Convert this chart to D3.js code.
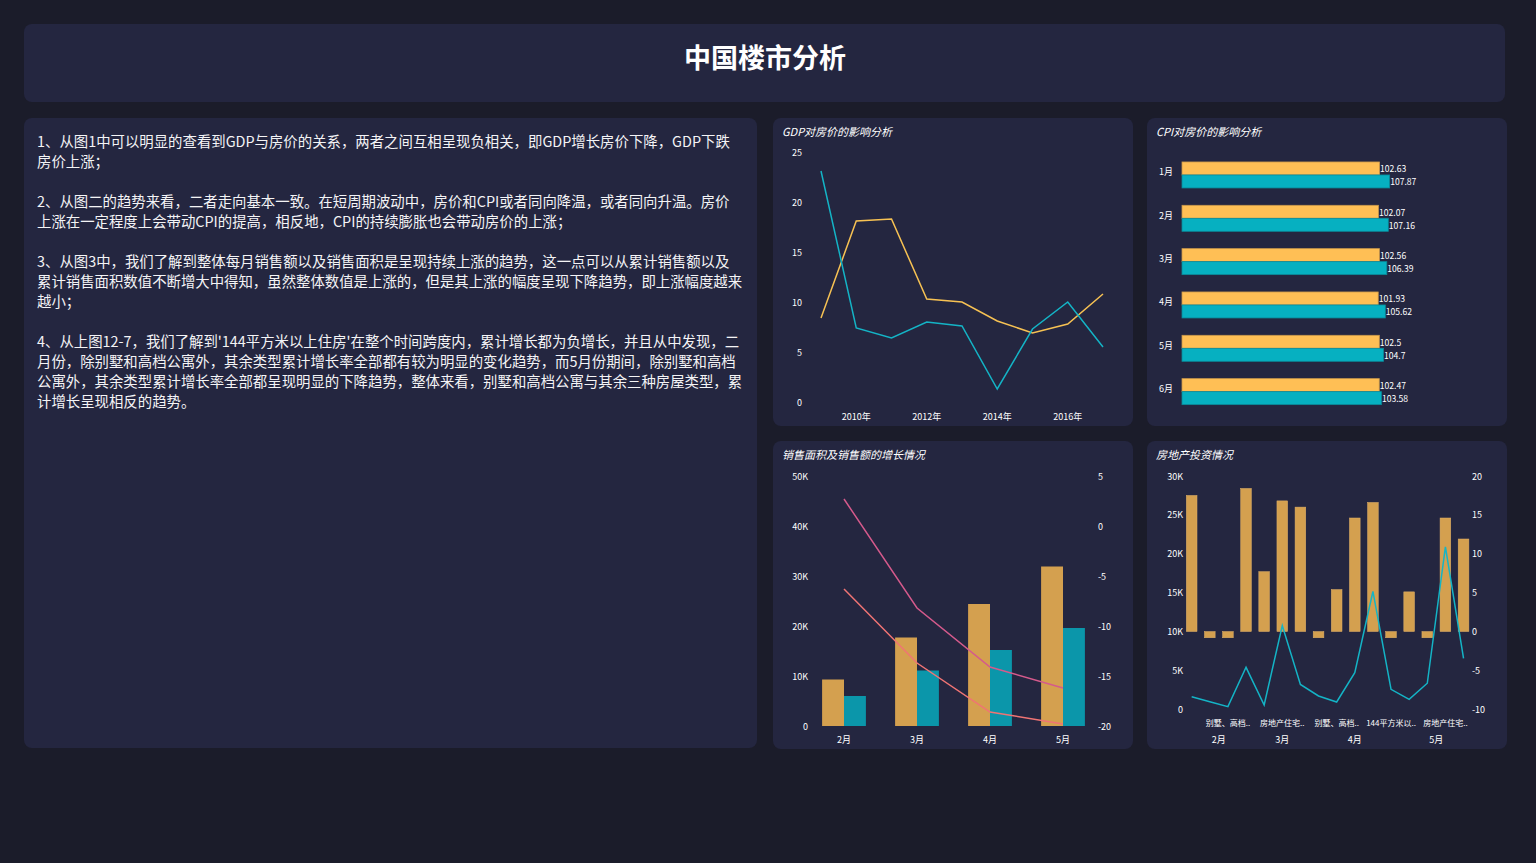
<!DOCTYPE html>
<html><head><meta charset="utf-8">
<script src="https://cdn.jsdelivr.net/npm/d3@7"></script>
<style>
body{margin:0;background:#1b1c2a;overflow:hidden}
svg{display:block;font-family:"Noto Sans CJK SC","Noto Sans",sans-serif}
</style>
</head><body>
<svg id="c" width="1536" height="863"></svg>
<script>
// ---------------- data ----------------
const pageTitle = "中国楼市分析";
const noteLines = [
  "1、从图1中可以明显的查看到GDP与房价的关系，两者之间互相呈现负相关，即GDP增长房价下降，GDP下跌",
  "房价上涨；",
  "",
  "2、从图二的趋势来看，二者走向基本一致。在短周期波动中，房价和CPI或者同向降温，或者同向升温。房价",
  "上涨在一定程度上会带动CPI的提高，相反地，CPI的持续膨胀也会带动房价的上涨；",
  "",
  "3、从图3中，我们了解到整体每月销售额以及销售面积是呈现持续上涨的趋势，这一点可以从累计销售额以及",
  "累计销售面积数值不断增大中得知，虽然整体数值是上涨的，但是其上涨的幅度呈现下降趋势，即上涨幅度越来",
  "越小；",
  "",
  "4、从上图12-7，我们了解到'144平方米以上住房'在整个时间跨度内，累计增长都为负增长，并且从中发现，二",
  "月份，除别墅和高档公寓外，其余类型累计增长率全部都有较为明显的变化趋势，而5月份期间，除别墅和高档",
  "公寓外，其余类型累计增长率全部都呈现明显的下降趋势，整体来看，别墅和高档公寓与其余三种房屋类型，累",
  "计增长呈现相反的趋势。"
];

const gdpTitle = "GDP对房价的影响分析";
const gdpYears = ["2009年","2010年","2011年","2012年","2013年","2014年","2015年","2016年","2017年"];
const gdpTickYears = ["2010年","2012年","2014年","2016年"];
const gdpTicks = [0,5,10,15,20,25];
const housePriceGrowth = [8.4,18.1,18.3,10.3,10.0,8.1,6.9,7.8,10.8];
const gdpGrowth = [23.1,7.4,6.4,8.0,7.6,1.3,7.3,10.0,5.5];

const cpiTitle = "CPI对房价的影响分析";
const cpiMonths = ["1月","2月","3月","4月","5月","6月"];
const cpiValuesA = [102.63,102.07,102.56,101.93,102.5,102.47];
const cpiValuesB = [107.87,107.16,106.39,105.62,104.7,103.58];

const salesTitle = "销售面积及销售额的增长情况";
const salesMonths = ["2月","3月","4月","5月"];
const salesArea = [9300,17700,24400,31900];
const salesAmount = [6000,11100,15200,19600];
const salesAreaGrowth = [2.7,-8.2,-14.1,-16.2];
const salesAmountGrowth = [-6.3,-13.7,-18.6,-19.8];
const salesLeftTicks = [0,10000,20000,30000,40000,50000];
const salesRightTicks = [-20,-15,-10,-5,0,5];

const investTitle = "房地产投资情况";
const investMonths = ["2月","2月","2月","2月","3月","3月","3月","4月","4月","4月","4月","4月","5月","5月","5月","5月"];
const investTypes = ["144平方米以上住房","90平方米及以下住房","别墅、高档公寓","房地产住宅投资",
  "144平方米以上住房","房地产住宅投资","90平方米及以下住房",
  "90-144平方米住房","别墅、高档公寓","90平方米及以下住房","房地产住宅投资","144平方米以上住房",
  "90-144平方米住房","90平方米及以下住房","房地产住宅投资","别墅、高档公寓"];
const investGrowth = [17.5,-0.8,-0.8,18.4,7.7,16.8,16.0,-0.8,5.4,14.6,16.6,-0.8,5.1,-0.8,14.6,11.9];
const investAmount = [1620,980,340,5400,550,10770,3200,1710,940,4700,15150,2570,1280,3350,20900,6550];
const investLeftTicks = [0,5000,10000,15000,20000,25000,30000];
const investRightTicks = [-10,-5,0,5,10,15,20];

// ---------------- drawing ----------------
const svg = d3.select("#c");
const PANEL = "#242640";
const fmtK = v => v === 0 ? "0" : (v/1000) + "K";

function panel(x,y,w,h){
  svg.append("rect").attr("x",x).attr("y",y).attr("width",w).attr("height",h)
    .attr("rx",8).attr("fill",PANEL);
}
function chartTitle(x,y,t){
  svg.append("text").attr("x",x).attr("y",y).attr("dominant-baseline","central")
    .attr("font-size",11).attr("font-style","italic").attr("fill","#fff").text(t);
}
function tickText(g,x,y,t,anchor,size){
  return g.append("text").attr("x",x).attr("y",y).attr("dominant-baseline","central")
    .attr("text-anchor",anchor).attr("font-size",size||9).attr("fill","#fff").text(t);
}

// title panel
panel(24,24,1481,78);
svg.append("text").attr("x",765).attr("y",56).attr("dominant-baseline","central")
  .attr("text-anchor","middle").attr("font-size",27).attr("font-weight","bold")
  .attr("fill","#fff").text(pageTitle);

// notes panel
panel(24,118,733,630);
const notes = svg.append("g");
noteLines.forEach((t,i)=>{
  if(!t) return;
  notes.append("text").attr("x",37).attr("y",140+i*20).attr("dominant-baseline","central")
    .attr("font-size",14.4).attr("fill","#f4f4f6").text(t);
});

// ---- GDP chart ----
panel(773,118,360,308);
chartTitle(782,131,gdpTitle);
{
  const g = svg.append("g");
  const x = d3.scalePoint().domain(gdpYears).range([821,1103]);
  const y = d3.scaleLinear().domain([0,25]).range([402,152]);
  gdpTicks.forEach(t=>tickText(g,802,y(t),t,"end"));
  gdpTickYears.forEach(t=>tickText(g,x(t),416,t,"middle"));
  const line = d3.line().x((d,i)=>x(gdpYears[i])).y(d=>y(d));
  g.append("path").datum(housePriceGrowth).attr("d",line).attr("fill","none")
    .attr("stroke","#f7c253").attr("stroke-width",1.5);
  g.append("path").datum(gdpGrowth).attr("d",line).attr("fill","none")
    .attr("stroke","#14b4c6").attr("stroke-width",1.5);
}

// ---- CPI chart ----
panel(1147,118,360,308);
chartTitle(1156,131,cpiTitle);
{
  const g = svg.append("g");
  const y0 = d3.scaleBand().domain(cpiMonths).range([153.3,413.3]);
  const y1 = d3.scaleBand().domain(["a","b"]).range([y0.bandwidth()/2-13,y0.bandwidth()/2+13]);
  const x = d3.scaleLinear().domain([0,140]).range([1182,1451.5]);
  cpiMonths.forEach((m,i)=>{
    const cy = y0(m);
    tickText(g,1173,cy+y0.bandwidth()/2-3,m,"end");
    [["a",cpiValuesA[i],"#ffbf55","#c9974a"],["b",cpiValuesB[i],"#06b0c1","#0a8a9a"]].forEach(([k,v,c,s])=>{
      g.append("rect").attr("x",x(0)).attr("y",cy+y1(k)).attr("width",x(v)-x(0))
        .attr("height",y1.bandwidth()).attr("fill",c).attr("stroke",s).attr("stroke-width",0.8);
      tickText(g,x(v)+0.5,cy+y1(k)+y1.bandwidth()/2,v,"start",8.6);
    });
  });
}

// ---- Sales chart ----
panel(773,441,360,308);
chartTitle(782,454,salesTitle);
{
  const g = svg.append("g");
  const x0 = d3.scaleBand().domain(salesMonths).range([807.5,1099.5]);
  const bw = x0.bandwidth();
  const x1 = d3.scaleBand().domain(["area","amount"]).range([bw*0.2,bw*0.8]);
  const yL = d3.scaleLinear().domain([0,50000]).range([726,476]);
  const yR = d3.scaleLinear().domain([-20,5]).range([726,476]);
  salesLeftTicks.forEach(t=>tickText(g,808,yL(t),fmtK(t),"end"));
  salesRightTicks.forEach(t=>tickText(g,1098,yR(t),t,"start"));
  salesMonths.forEach((m,i)=>{
    tickText(g,x0(m)+bw/2,739,m,"middle");
    [["area",salesArea[i],"#d4a04f"],["amount",salesAmount[i],"#0b96aa"]].forEach(([k,v,c])=>{
      g.append("rect").attr("x",x0(m)+x1(k)).attr("y",yL(v)).attr("width",x1.bandwidth())
        .attr("height",yL(0)-yL(v)).attr("fill",c);
    });
  });
  const line = d3.line().x((d,i)=>x0(salesMonths[i])+bw/2).y(d=>yR(d));
  g.append("path").datum(salesAreaGrowth).attr("d",line).attr("fill","none")
    .attr("stroke","#d55a8c").attr("stroke-width",1.5);
  g.append("path").datum(salesAmountGrowth).attr("d",line).attr("fill","none")
    .attr("stroke","#f07474").attr("stroke-width",1.5);
}

// ---- Investment chart ----
panel(1147,441,360,308);
chartTitle(1156,454,investTitle);
{
  const g = svg.append("g");
  const idx = investGrowth.map((d,i)=>i);
  const x = d3.scaleBand().domain(idx).range([1182.6,1472.6]).paddingInner(0.41).paddingOuter(0.205);
  const yL = d3.scaleLinear().domain([0,30000]).range([709.3,476]);
  const yR = d3.scaleLinear().domain([-10,20]).range([709.3,476]);
  investLeftTicks.forEach(t=>tickText(g,1183,yL(t),fmtK(t),"end"));
  investRightTicks.forEach(t=>tickText(g,1472,yR(t),t,"start"));
  investGrowth.forEach((v,i)=>{
    g.append("rect").attr("x",x(i)).attr("y",yR(Math.max(0,v)))
      .attr("width",x.bandwidth()).attr("height",Math.abs(yR(v)-yR(0)))
      .attr("fill","#d4a04f").attr("stroke","#e0b068").attr("stroke-width",0.5);
  });
  const line = d3.line().x((d,i)=>x(i)+x.bandwidth()/2).y(d=>yL(d));
  g.append("path").datum(investAmount).attr("d",line).attr("fill","none")
    .attr("stroke","#14b4c6").attr("stroke-width",1.5);
  // first-level category labels (every third shown, truncated to fit)
  investTypes.forEach((t,i)=>{
    if(i%3!==2) return;
    const el = tickText(g,x(i)+x.bandwidth()/2,722.7,t,"middle",8);
    let s = t;
    while(el.node().getComputedTextLength()>50 && s.length>1){
      s = s.slice(0,-1);
      el.text(s+"..");
    }
  });
  // month group labels
  const groups = d3.groups(idx,i=>investMonths[i]);
  groups.forEach(([m,arr])=>{
    const a = x(arr[0]), b = x(arr[arr.length-1])+x.bandwidth();
    tickText(g,(a+b)/2,739,m,"middle");
  });
}
</script>
</body></html>
